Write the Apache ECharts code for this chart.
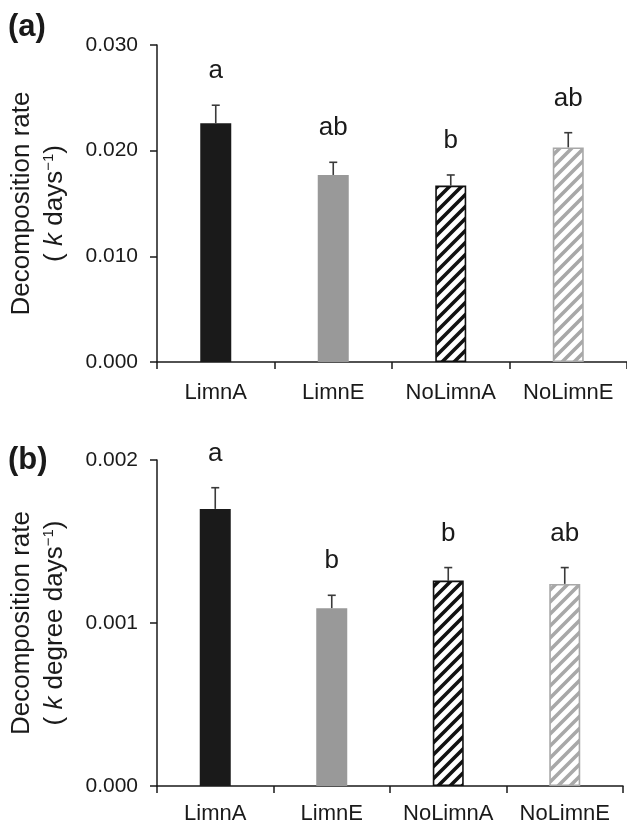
<!DOCTYPE html>
<html>
<head>
<meta charset="utf-8">
<script src="https://cdn.jsdelivr.net/npm/echarts@6/dist/echarts.min.js"></script>
<style>
html,body{margin:0;padding:0;background:#fff;}
#chart{width:627px;height:826px;}
</style>
</head>
<body>
<div id="chart"></div>
<script>
// ---- data ----
const categories = ['LimnA', 'LimnE', 'NoLimnA', 'NoLimnE'];
const meanA = [0.0226, 0.0177, 0.0167, 0.0203];
const seA = [0.0017, 0.0012, 0.0010, 0.0014];
const lettersA = ['a', 'ab', 'b', 'ab'];
const meanB = [0.00170, 0.00109, 0.00126, 0.00124];
const seB = [0.00013, 0.00008, 0.00008, 0.00010];
const lettersB = ['a', 'b', 'b', 'ab'];
const maxA = 0.03, stepA = 0.01;
const maxB = 0.002, stepB = 0.001;

const FONT = 'Liberation Sans, Arial, sans-serif';
const TXT = '#1a1a1a';

function hatch(color) {
  const s = 12;
  const c = document.createElement('canvas');
  c.width = s; c.height = s;
  const g = c.getContext('2d');
  g.fillStyle = '#fff';
  g.fillRect(0, 0, s, s);
  g.strokeStyle = color;
  g.lineWidth = 3.6;
  g.beginPath();
  g.moveTo(-2, s + 2); g.lineTo(s + 2, -2);
  g.moveTo(-2, 2); g.lineTo(2, -2);
  g.moveTo(s - 2, s + 2); g.lineTo(s + 2, s - 2);
  g.stroke();
  return c;
}
const styles = [
  { color: '#1a1a1a' },
  { color: '#999999' },
  { color: { image: hatch('#111111'), repeat: 'repeat' }, borderColor: '#111111', borderWidth: 1.6 },
  { color: { image: hatch('#a8a8a8'), repeat: 'repeat' }, borderColor: '#a8a8a8', borderWidth: 1.6 }
];

function barData(means) {
  return means.map((v, i) => ({ value: v, itemStyle: styles[i] }));
}
function errData(means, ses) {
  return means.map((v, i) => [i, v, ses[i]]);
}
function makeErr(letters) {
  return function (params, api) {
    const x = api.value(0);
    const m = api.value(1);
    const se = api.value(2);
    const letter = letters[params.dataIndex];
    const p0 = api.coord([x, m]);
    const p1 = api.coord([x, m + se]);
    const ls = { stroke: '#3a3a3a', lineWidth: 1.6 };
    return {
      type: 'group',
      children: [
        { type: 'line', shape: { x1: p0[0], y1: p0[1], x2: p1[0], y2: p1[1] }, style: ls },
        { type: 'line', shape: { x1: p1[0] - 4, y1: p1[1], x2: p1[0] + 4, y2: p1[1] }, style: ls },
        { type: 'text', style: { text: letter, x: p1[0], y: p1[1] - 34, align: 'center', verticalAlign: 'middle',
            fontSize: 26, fontFamily: FONT, fill: TXT } }
      ]
    };
  };
}

function yAxisCfg(gridIndex, max, step, unitWord) {
  return {
    type: 'value', gridIndex: gridIndex, min: 0, max: max, interval: step,
    splitLine: { show: false },
    axisLine: { show: true, lineStyle: { color: '#1a1a1a', width: 1.5 } },
    axisTick: { show: true, length: 7, lineStyle: { color: '#1a1a1a', width: 1.5 } },
    axisLabel: { formatter: v => v.toFixed(3), fontSize: 21, fontFamily: FONT, color: TXT, margin: 19 },
    name: '{t|Decomposition rate}\n{t|( }{i|k}{t| ' + unitWord + '}{s|−1}{t|)}',
    nameLocation: 'middle', nameRotate: 90, nameGap: 86,
    nameTextStyle: {
      rich: {
        t: { fontSize: 26, fontFamily: FONT, color: TXT, lineHeight: 33 },
        i: { fontSize: 26, fontFamily: FONT, color: TXT, fontStyle: 'italic', lineHeight: 33 },
        s: { fontSize: 15, fontFamily: FONT, color: TXT, verticalAlign: 'top', lineHeight: 33, padding: [3, 0, 0, 0] }
      }
    }
  };
}
function xAxisCfg(gridIndex, margin) {
  return {
    type: 'category', gridIndex: gridIndex, data: categories,
    axisLine: { show: true, lineStyle: { color: '#1a1a1a', width: 1.5 } },
    axisTick: { show: true, length: 7, lineStyle: { color: '#1a1a1a', width: 1.5 } },
    axisLabel: { interval: 0, fontSize: 22, fontFamily: FONT, color: TXT, margin: margin }
  };
}

const chart = echarts.init(document.getElementById('chart'), null, { renderer: 'canvas' });
chart.setOption({
  animation: false,
  backgroundColor: '#fff',
  grid: [
    { left: 157, top: 45, width: 470, height: 317 },
    { left: 157, top: 460, width: 466, height: 326 }
  ],
  xAxis: [xAxisCfg(0, 20), xAxisCfg(1, 17)],
  yAxis: [yAxisCfg(0, maxA, stepA, 'days'), yAxisCfg(1, maxB, stepB, 'degree days')],
  graphic: [
    { type: 'text', left: 8, top: 12, style: { text: '(a)', fontSize: 31, fontWeight: 'bold', fontFamily: FONT, fill: TXT } },
    { type: 'text', left: 8, top: 445, style: { text: '(b)', fontSize: 31, fontWeight: 'bold', fontFamily: FONT, fill: TXT } }
  ],
  series: [
    { type: 'bar', xAxisIndex: 0, yAxisIndex: 0, barWidth: 31, data: barData(meanA), z: 2 },
    { type: 'custom', xAxisIndex: 0, yAxisIndex: 0, renderItem: makeErr(lettersA), data: errData(meanA, seA),
      encode: { x: 0, y: 1 }, z: 1 },
    { type: 'bar', xAxisIndex: 1, yAxisIndex: 1, barWidth: 31, data: barData(meanB), z: 2 },
    { type: 'custom', xAxisIndex: 1, yAxisIndex: 1, renderItem: makeErr(lettersB), data: errData(meanB, seB),
      encode: { x: 0, y: 1 }, z: 1 }
  ]
});
</script>
</body>
</html>
